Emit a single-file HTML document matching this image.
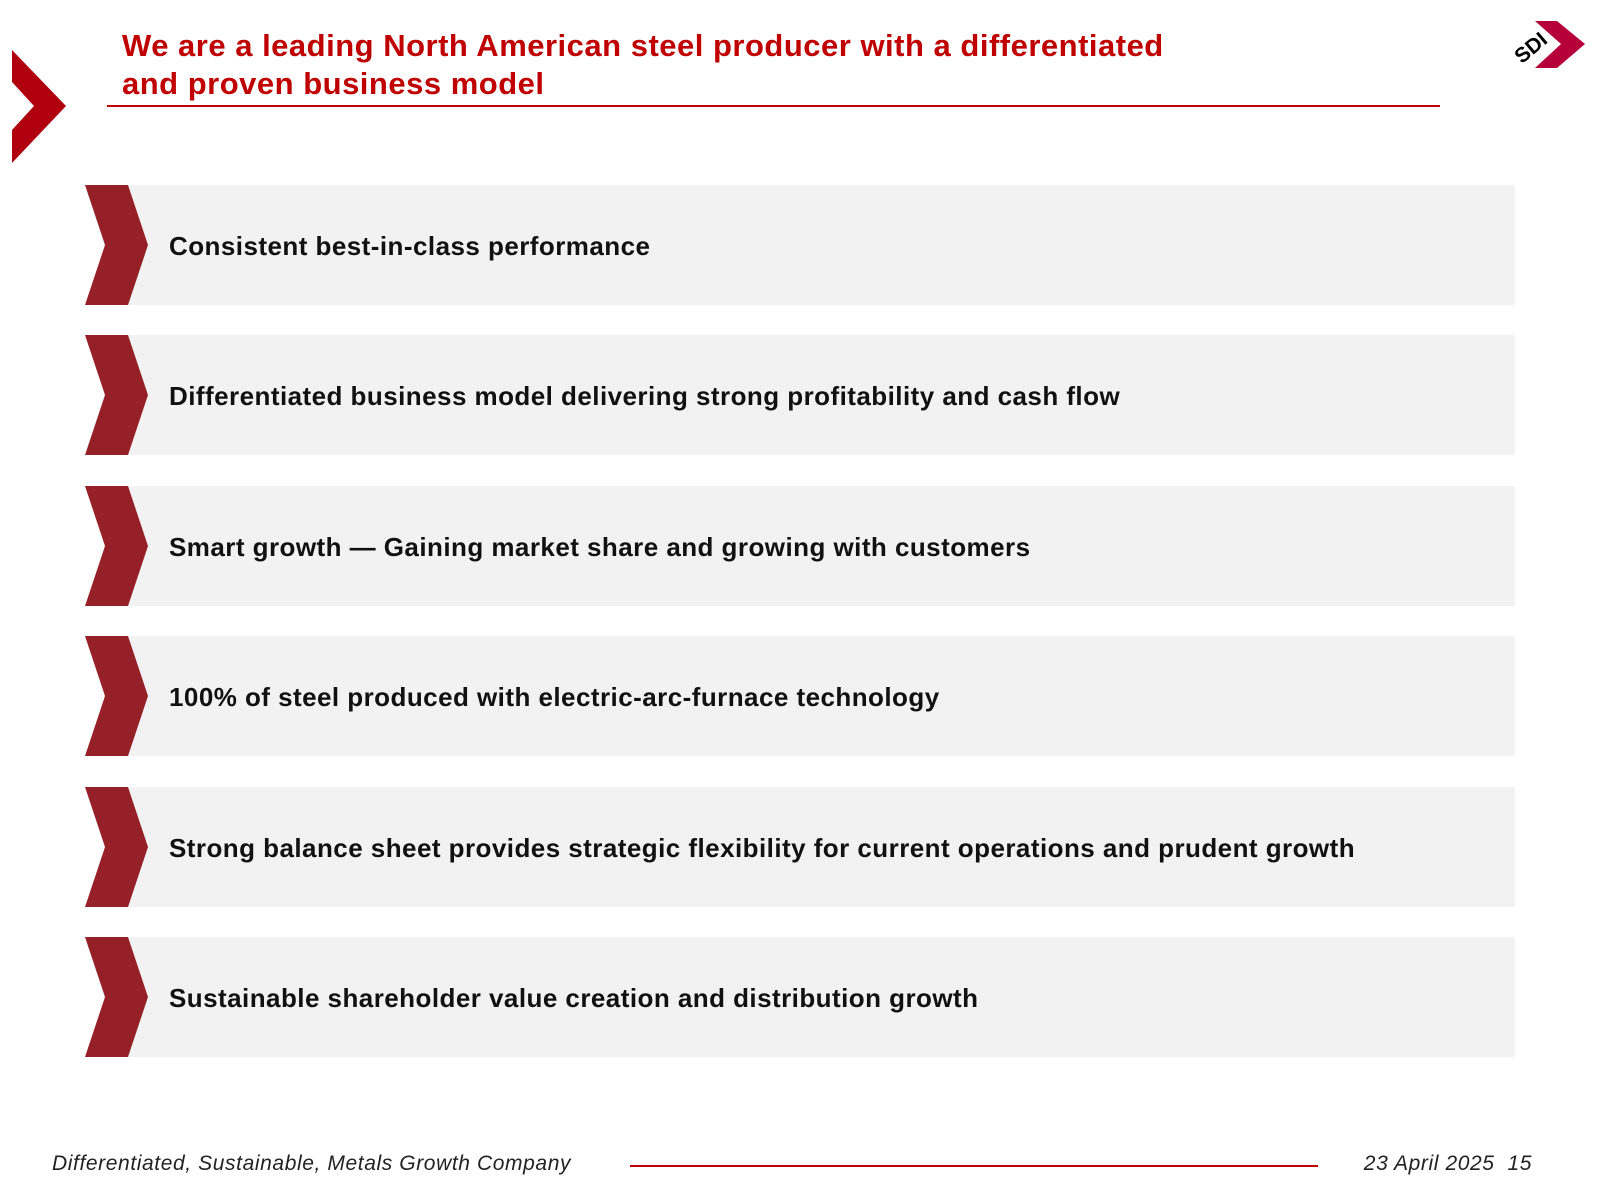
<!DOCTYPE html>
<html><head><meta charset="utf-8"><style>
body{margin:0;width:1600px;height:1200px;background:#fff;position:relative;overflow:hidden;font-family:"Liberation Sans",sans-serif}
.t{position:absolute;left:122px;top:27px;color:#c00000;font-weight:bold;font-size:31px;letter-spacing:0.5px;line-height:38px}
.row{position:absolute;left:85px;width:1430px;height:120px}
.row .bg{position:absolute;left:40px;top:0;right:0;bottom:0;background:#f2f2f2}
.row svg{position:absolute;left:0;top:0}
.row span{position:absolute;left:84px;top:1px;line-height:120px;font-weight:bold;font-size:26px;letter-spacing:0.45px;color:#111;white-space:nowrap}
.f{position:absolute;top:1152px;font-style:italic;font-size:21px;letter-spacing:0.6px;color:#222}
</style></head><body>
<svg style="position:absolute;left:12px;top:50px" width="56" height="114"><polygon points="0,0 54,56 0,113 0,80 22,56 0,32" fill="#b0000f"/></svg>
<div class="t">We are a leading North American steel producer with a differentiated<br>and proven business model</div>
<div style="position:absolute;left:107px;top:105px;width:1333px;height:2px;background:#c00000"></div>
<svg style="position:absolute;left:1515px;top:18px" width="75" height="56"><polygon points="20,3 42,3 70,26 42,50 20,50 46,26" fill="#b5003a"/><text x="-2" y="38" font-family="Liberation Sans" font-weight="bold" font-size="21" transform="rotate(-40 14 30)" fill="#000">SDI</text></svg>
<div id="rows"></div>
<div class="f" style="left:52px">Differentiated, Sustainable, Metals Growth Company</div>
<div style="position:absolute;left:630px;top:1165px;width:688px;height:2px;background:#c00000"></div>
<div class="f" style="right:68px">23 April 2025&nbsp; 15</div>
<script>
const items=["Consistent best-in-class performance","Differentiated business model delivering strong profitability and cash flow","Smart growth — Gaining market share and growing with customers","100% of steel produced with electric-arc-furnace technology","Strong balance sheet provides strategic flexibility for current operations and prudent growth","Sustainable shareholder value creation and distribution growth"];
const tops=[185,335,486,636,787,937];
const c=document.getElementById('rows');
items.forEach((s,i)=>{const r=document.createElement('div');r.className='row';r.style.top=tops[i]+'px';


r.innerHTML='<div class="bg"></div><svg width="64" height="120"><polygon points="0,0 43,0 63,60 43,120 0,120 20,60" fill="#962027"/></svg><span>'+s+'</span>';c.appendChild(r);});
</script>
</body></html>
